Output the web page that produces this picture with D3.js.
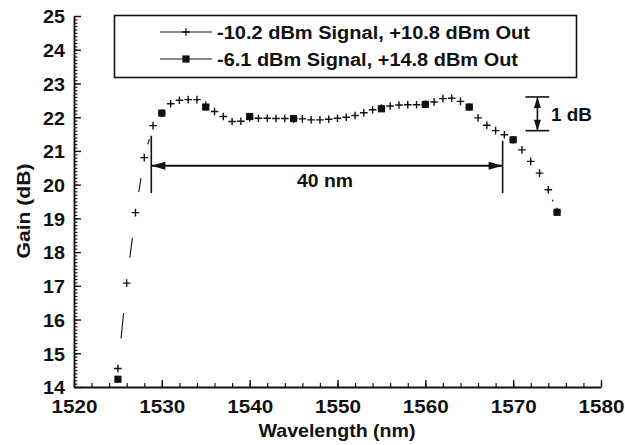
<!DOCTYPE html>
<html><head><meta charset="utf-8">
<script src="https://cdn.jsdelivr.net/npm/d3@7"></script>
<style>
body{margin:0;background:#fff;}
svg{display:block;}
text{font-family:"Liberation Sans",Arial,sans-serif;font-weight:bold;fill:#111;}
</style></head><body>
<svg id="c" width="625" height="445"></svg>
<script>
// ---- data ----
const wavelengthsPlus = [1525,1526,1527,1528,1529,1530,1531,1532,1533,1534,1535,1536,1537,1538,1539,1540,1541,1542,1543,1544,1545,1546,1547,1548,1549,1550,1551,1552,1553,1554,1555,1556,1557,1558,1559,1560,1561,1562,1563,1564,1565,1566,1567,1568,1569,1570,1571,1572,1573,1574,1575];
const gainPlus = [14.55,17.08,19.17,20.8,21.75,22.12,22.4,22.5,22.52,22.52,22.35,22.17,22.02,21.87,21.88,21.98,21.97,21.97,21.96,21.96,21.95,21.95,21.92,21.92,21.94,21.97,22.0,22.05,22.13,22.22,22.27,22.33,22.36,22.37,22.37,22.38,22.45,22.55,22.56,22.47,22.3,21.98,21.76,21.6,21.48,21.33,21.03,20.69,20.34,19.85,19.2];
const wavelengthsSquare = [1525,1530,1535,1540,1545,1555,1560,1565,1570,1575];
const gainSquare = [14.23,22.12,22.3,22.02,21.96,22.25,22.38,22.3,21.33,19.18];
const seriesNames = ["-10.2 dBm Signal, +10.8 dBm Out", "-6.1 dBm Signal, +14.8 dBm Out"];
const xTicks = [1520,1530,1540,1550,1560,1570,1580];
const yTicks = [14,15,16,17,18,19,20,21,22,23,24,25];
const bandEdges = [1528.8, 1568.8];   // 40 nm markers
const bandArrowGain = 20.56;
const bandLineTop = [21.45, 21.3];
const bandLineBottom = 19.75;
const dbBar = {x: 1572.76, x0: 1571.4, x1: 1574.1, top: 22.6, bottom: 21.6};

// ---- layout ----
const svg = d3.select("#c");
const x = d3.scaleLinear().domain([1520,1580]).range([74,601]);
const y = d3.scaleLinear().domain([14,25]).range([387,16]);
const ink = "#111";

// minor ticks
svg.append("g").attr("transform","translate(0,387)")
  .call(d3.axisBottom(x).tickValues(d3.range(1520,1581,2)).tickSize(-4).tickFormat(""))
  .call(g=>{g.select(".domain").remove(); g.selectAll("line").attr("stroke",ink).attr("stroke-width",1.2);});
svg.append("g").attr("transform","translate(74,0)")
  .call(d3.axisLeft(y).tickValues(d3.range(140,251,1).map(v=>v/10)).tickSize(-3.5).tickFormat(""))
  .call(g=>{g.select(".domain").remove(); g.selectAll("line").attr("stroke",ink).attr("stroke-width",1.1);});

// major axes
const gx = svg.append("g").attr("transform","translate(0,387)")
  .call(d3.axisBottom(x).tickValues(xTicks).tickSize(-7).tickSizeOuter(0).tickFormat(d3.format("d")));
gx.select(".domain").attr("stroke",ink).attr("stroke-width",1.8);
gx.selectAll("line").attr("stroke",ink).attr("stroke-width",1.4);
gx.selectAll("text").attr("y",26).attr("dy",null).attr("font-size",19)
  .attr("textLength",46).attr("lengthAdjust","spacingAndGlyphs").style("fill",ink);

const gy = svg.append("g").attr("transform","translate(74,0)")
  .call(d3.axisLeft(y).tickValues(yTicks).tickSize(-7).tickSizeOuter(0).tickPadding(9));
gy.select(".domain").attr("stroke",ink).attr("stroke-width",1.8);
gy.selectAll("line").attr("stroke",ink).attr("stroke-width",1.4);
gy.selectAll("text").attr("font-size",19).attr("dy","0.36em")
  .attr("textLength",22).attr("lengthAdjust","spacingAndGlyphs").style("fill",ink);

// axis titles
svg.append("text").attr("x",337).attr("y",437).attr("text-anchor","middle")
  .attr("font-size",19).attr("textLength",157).attr("lengthAdjust","spacingAndGlyphs").text("Wavelength (nm)");
svg.append("text").attr("transform","translate(30,211) rotate(-90)").attr("text-anchor","middle")
  .attr("font-size",18.5).attr("textLength",95).attr("lengthAdjust","spacingAndGlyphs").text("Gain (dB)");

// ---- series ----
const plusPath = s => `M${-s},0H${s}M0,${-s}V${s}`;
const plusPts = wavelengthsPlus.map((w,i)=>[x(w),y(gainPlus[i])]);
// connecting line: only the middle part of each segment is visible (gaps around markers)
const segs = [];
for(let i=0;i<plusPts.length-1;i++){
  const [x0,y0]=plusPts[i],[x1,y1]=plusPts[i+1];
  const len = Math.hypot(x1-x0,y1-y0);
  const vis = Math.max(0, 0.38*len - 7);
  if(vis<=0) continue;
  const f0 = 0.5 - vis/len/2, f1 = 0.5 + vis/len/2;
  segs.push([[x0+(x1-x0)*f0,y0+(y1-y0)*f0],[x0+(x1-x0)*f1,y0+(y1-y0)*f1]]);
}
svg.append("g").selectAll("line").data(segs).join("line")
  .attr("x1",d=>d[0][0]).attr("y1",d=>d[0][1]).attr("x2",d=>d[1][0]).attr("y2",d=>d[1][1])
  .attr("stroke",ink).attr("stroke-width",1.1);
svg.append("g").selectAll("path").data(plusPts).join("path")
  .attr("transform",d=>`translate(${d[0]},${d[1]})`).attr("d",plusPath(3.8))
  .attr("stroke",ink).attr("stroke-width",1.4).attr("fill","none");
svg.append("g").selectAll("rect").data(wavelengthsSquare.map((w,i)=>[x(w),y(gainSquare[i])])).join("rect")
  .attr("x",d=>d[0]-3.6).attr("y",d=>d[1]-3.6).attr("width",7.2).attr("height",7.2).attr("fill",ink);

// ---- 40 nm annotation ----
const ay = y(bandArrowGain);
bandEdges.forEach((b,i)=>{
  svg.append("line").attr("x1",x(b)).attr("x2",x(b)).attr("y1",y(bandLineTop[i])).attr("y2",y(bandLineBottom))
    .attr("stroke",ink).attr("stroke-width",1.6);
});
const ax0=x(bandEdges[0]), ax1=x(bandEdges[1]);
svg.append("line").attr("x1",ax0).attr("x2",ax1).attr("y1",ay).attr("y2",ay).attr("stroke",ink).attr("stroke-width",1.8);
svg.append("path").attr("d",`M${ax0},${ay}L${ax0+14},${ay-4}L${ax0+14},${ay+4}Z`).attr("fill",ink);
svg.append("path").attr("d",`M${ax1},${ay}L${ax1-14},${ay-4}L${ax1-14},${ay+4}Z`).attr("fill",ink);
svg.append("text").attr("x",(ax0+ax1)/2-2).attr("y",ay+21).attr("text-anchor","middle")
  .attr("font-size",18).attr("textLength",56).attr("lengthAdjust","spacingAndGlyphs").text("40 nm");

// ---- 1 dB annotation ----
const bx=x(dbBar.x), bt=y(dbBar.top), bb=y(dbBar.bottom);
[bt,bb].forEach(v=>svg.append("line").attr("x1",x(dbBar.x0)).attr("x2",x(dbBar.x1)).attr("y1",v).attr("y2",v)
  .attr("stroke",ink).attr("stroke-width",1.6));
svg.append("line").attr("x1",bx).attr("x2",bx).attr("y1",bt).attr("y2",bb).attr("stroke",ink).attr("stroke-width",1.6);
svg.append("path").attr("d",`M${bx},${bt}L${bx-3.5},${bt+11}L${bx+3.5},${bt+11}Z`).attr("fill",ink);
svg.append("path").attr("d",`M${bx},${bb}L${bx-3.5},${bb-11}L${bx+3.5},${bb-11}Z`).attr("fill",ink);
svg.append("text").attr("x",551).attr("y",(bt+bb)/2+7).attr("font-size",19)
  .attr("textLength",41).attr("lengthAdjust","spacingAndGlyphs").text("1 dB");

// ---- legend ----
svg.append("rect").attr("x",114.5).attr("y",15.5).attr("width",462).attr("height",62)
  .attr("fill","none").attr("stroke",ink).attr("stroke-width",1.6);
const legRows = [{cy:32, marker:"plus", len:313},{cy:59, marker:"square", len:301}];
legRows.forEach((r,i)=>{
  svg.append("line").attr("x1",160).attr("x2",212).attr("y1",r.cy).attr("y2",r.cy).attr("stroke",ink).attr("stroke-width",1.2);
  if(r.marker==="plus"){
    svg.append("path").attr("transform",`translate(186,${r.cy})`).attr("d",plusPath(3.8)).attr("stroke",ink).attr("stroke-width",1.3);
  } else {
    svg.append("rect").attr("x",182.4).attr("y",r.cy-3.6).attr("width",7.2).attr("height",7.2).attr("fill",ink);
  }
  svg.append("text").attr("x",217).attr("y",r.cy+6.5).attr("font-size",18)
    .attr("textLength",r.len).attr("lengthAdjust","spacingAndGlyphs").text(seriesNames[i]);
});
</script>
</body></html>
